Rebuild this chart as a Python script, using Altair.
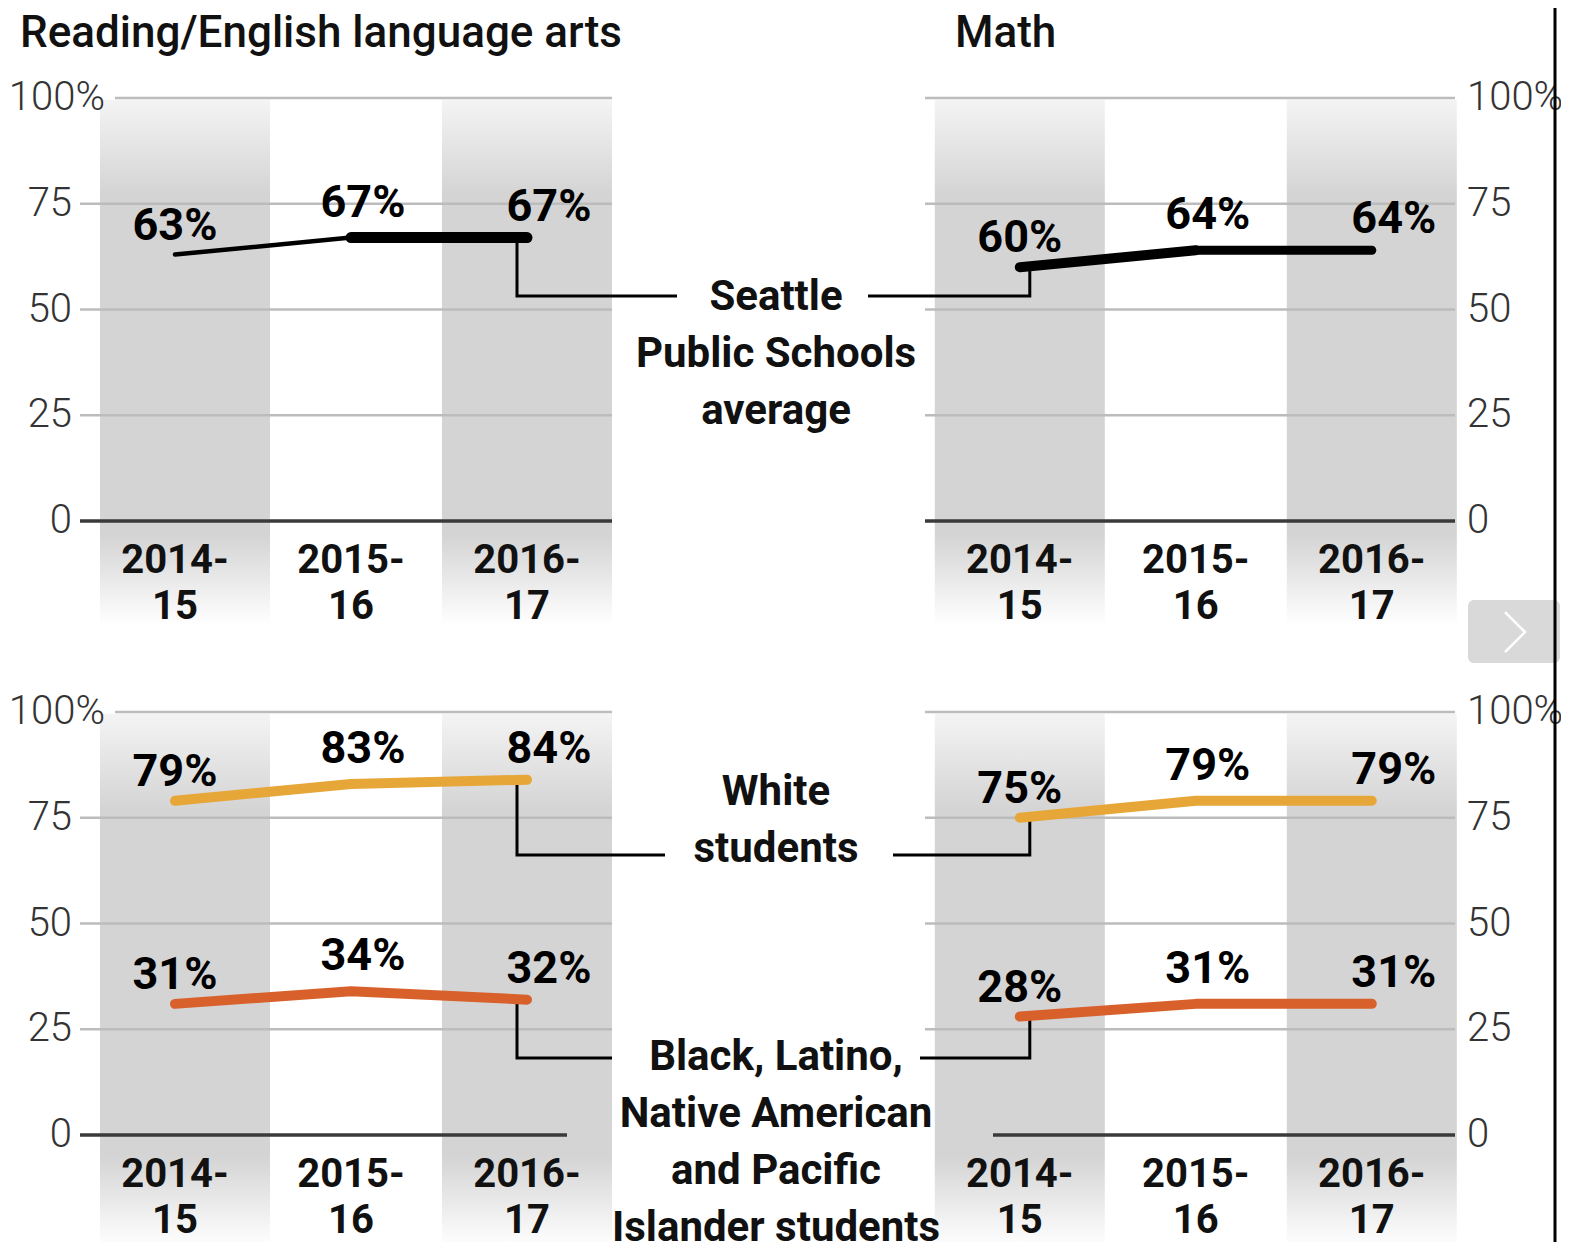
import altair as alt
import pandas as pd

# ---------------- data ----------------
subjects = ["Reading/English language arts", "Math"]
year_top = ["2014-", "2015-", "2016-"]
year_bottom = ["15", "16", "17"]
ticks = [0, 25, 50, 75, 100]
tick_labels = ["0", "25", "50", "75", "100%"]

avg_reading = [63, 67, 67]
avg_math = [60, 64, 64]
white_reading = [79, 83, 84]
white_math = [75, 79, 79]
minority_reading = [31, 34, 32]
minority_math = [28, 31, 31]

seattle_lines = ["Seattle", "Public Schools", "average"]
white_lines = ["White", "students"]
minority_lines = ["Black, Latino,", "Native American", "and Pacific", "Islander students"]

# ---------------- layout (styling, not data) ----------------
W, H = 1553, 1234
PXX, PXY = 176.0, 4.23           # px per column unit / per percentage point
COLS = {"L": [0.0, 1.0, 2.0], "R": [4.8, 5.8, 6.8]}
BAND_SHIFT = {"L": [10, 0, 0], "R": [0, 0, 0]}   # px nudge of band centres
OFF = {"top": 145.15, "bottom": 0.0}
FONT = "Roboto"
GOLD, RUST = "#E7A638", "#D8612B"


def ux(px):
    return px / PXX


def uy(px):
    return px / PXY


def pxx(page_x):   # page x -> column units
    return (page_x - 175) / PXX


XS = alt.Scale(domain=[0, 6.8], range=[167, 167 + PXX * 6.8], zero=False, nice=False)
YS = alt.Scale(domain=[0, 100], range=[1127, 1127 - PXY * 100], zero=False, nice=False)


def X(f="x"):
    return alt.X(f"{f}:Q", scale=XS, axis=None)


def Y(f="y"):
    return alt.Y(f"{f}:Q", scale=YS, axis=None)


# ---------------- background bands ----------------
band_rows = []
for row in ["top", "bottom"]:
    bottom_v = -24.6 if row == "top" else -26.5
    for side in ["L", "R"]:
        for k in [0, 2]:
            c = COLS[side][k] + ux(BAND_SHIFT[side][k])
            band_rows.append(dict(x=c - 0.483, x2=c + 0.483, y=99.6 + OFF[row], y2=bottom_v + OFF[row]))
bands = alt.Chart(pd.DataFrame(band_rows)).mark_rect(
    color=alt.Gradient(
        gradient="linear", x1=0, y1=0, x2=0, y2=1,
        stops=[alt.GradientStop(color="#f4f4f4", offset=0),
               alt.GradientStop(color="#d4d4d4", offset=0.18),
               alt.GradientStop(color="#d4d4d4", offset=0.83),
               alt.GradientStop(color="#ffffff", offset=1)]),
).encode(x=X(), x2="x2", y=Y(), y2="y2")

# ---------------- grid lines ----------------
grid_rows, zero_rows = [], []
for row in ["top", "bottom"]:
    for t in ticks:
        yv = t + OFF[row]
        if t == 0:
            lx2 = pxx(612) if row == "top" else pxx(567)
            rx1 = pxx(925) if row == "top" else pxx(993)
            zero_rows.append(dict(x=pxx(80), x2=lx2, y=yv))
            zero_rows.append(dict(x=rx1, x2=pxx(1455), y=yv))
        else:
            lx1 = pxx(115) if t == 100 else pxx(80)
            grid_rows.append(dict(x=lx1, x2=pxx(612), y=yv))
            grid_rows.append(dict(x=pxx(925), x2=pxx(1455), y=yv))
grid = alt.Chart(pd.DataFrame(grid_rows)).mark_rule(color="#bcbcbc", strokeWidth=2.5).encode(
    x=X(), x2="x2", y=Y())
zero = alt.Chart(pd.DataFrame(zero_rows)).mark_rule(color="#3a3a3a", strokeWidth=3.5).encode(
    x=X(), x2="x2", y=Y())

# ---------------- axis labels ----------------
left_lab, right_lab = [], []
for row in ["top", "bottom"]:
    for t, lab in zip(ticks, tick_labels):
        left_lab.append(dict(x=pxx(105) if t == 100 else pxx(72), y=t + OFF[row], text=lab))
        right_lab.append(dict(x=pxx(1467), y=t + OFF[row], text=lab))
axis_left = alt.Chart(pd.DataFrame(left_lab)).mark_text(
    align="right", baseline="middle", font=FONT, fontSize=40, fontWeight=300, color="#333"
).encode(x=X(), y=Y(), text="text:N")
axis_right = alt.Chart(pd.DataFrame(right_lab)).mark_text(
    align="left", baseline="middle", font=FONT, fontSize=40, fontWeight=300, color="#333"
).encode(x=X(), y=Y(), text="text:N")

# ---------------- year labels ----------------
yr = []
for row in ["top", "bottom"]:
    for side in ["L", "R"]:
        for k in range(3):
            c = COLS[side][k]
            yr.append(dict(x=c, y=-uy(52) + OFF[row], text=year_top[k]))
            yr.append(dict(x=c, y=-uy(98) + OFF[row], text=year_bottom[k]))
years = alt.Chart(pd.DataFrame(yr)).mark_text(
    align="center", baseline="alphabetic", font=FONT, fontSize=40, fontWeight="bold", color="#111"
).encode(x=X(), y=Y(), text="text:N")

# ---------------- titles ----------------
titles = alt.Chart(pd.DataFrame([
    dict(x=pxx(20), y=uy(474) + OFF["top"], text=subjects[0]),
    dict(x=pxx(955), y=uy(474) + OFF["top"], text=subjects[1]),
])).mark_text(align="left", baseline="alphabetic", font=FONT, fontSize=44, fontWeight=500,
              color="#111").encode(x=X(), y=Y(), text="text:N")

# ---------------- connectors ----------------
conn = []
specs = [
    ("avg", "top", avg_reading[2], avg_math[0], 53.2, pxx(677), pxx(868)),
    ("white", "bottom", white_reading[2], white_math[0], 66.2, pxx(665), pxx(893)),
    ("min", "bottom", minority_reading[2], minority_math[0], 18.2, pxx(612), pxx(920)),
]
for name, row, vl, vr, elbow, lend, rstart in specs:
    o = OFF[row]
    xl = COLS["L"][2] - ux(10)
    xr = COLS["R"][0] + ux(10)
    for i, (x, y) in enumerate([(xl, vl + o), (xl, elbow + o), (lend, elbow + o)]):
        conn.append(dict(id=name + "L", ord=i, x=x, y=y))
    for i, (x, y) in enumerate([(rstart, elbow + o), (xr, elbow + o), (xr, vr + o)]):
        conn.append(dict(id=name + "R", ord=i, x=x, y=y))
connectors = alt.Chart(pd.DataFrame(conn)).mark_line(
    color="#000", strokeWidth=3, strokeJoin="miter", strokeCap="butt"
).encode(x=X(), y=Y(), detail="id:N", order="ord:Q")

# ---------------- series lines ----------------
line_rows = []
for side, w_vals, m_vals in [("L", white_reading, minority_reading), ("R", white_math, minority_math)]:
    for k in range(3):
        line_rows.append(dict(panel=side, series="white", x=COLS[side][k], y=w_vals[k]))
        line_rows.append(dict(panel=side, series="minority", x=COLS[side][k], y=m_vals[k]))
ldf = pd.DataFrame(line_rows)
lines = alt.Chart(ldf).mark_line(strokeWidth=10, strokeCap="round", strokeJoin="round").encode(
    x=X(), y=Y(), detail="panel:N",
    color=alt.Color("series:N", scale=alt.Scale(domain=["white", "minority"], range=[GOLD, RUST]),
                    legend=None))

seg_w = {"L": [4.5, 11], "R": [10, 9]}
seg_rows = []
for side, vals in [("L", avg_reading), ("R", avg_math)]:
    for k in range(2):
        seg_rows.append(dict(x=COLS[side][k], x2=COLS[side][k + 1],
                             y=vals[k] + OFF["top"], y2=vals[k + 1] + OFF["top"], w=seg_w[side][k]))
avg_line = alt.Chart(pd.DataFrame(seg_rows)).mark_rule(color="#000", strokeCap="round").encode(
    x=X(), x2="x2", y=Y(), y2="y2", strokeWidth=alt.StrokeWidth("w:Q", scale=None))

# ---------------- value labels ----------------
LDX = [0, 12, 22]
LRISE = [15, 21, 17]
vl_rows = []
for row, side, vals in [("top", "L", avg_reading), ("top", "R", avg_math),
                        ("bottom", "L", white_reading), ("bottom", "R", white_math),
                        ("bottom", "L", minority_reading), ("bottom", "R", minority_math)]:
    for k in range(3):
        vl_rows.append(dict(x=COLS[side][k] + ux(LDX[k]), y=vals[k] + OFF[row] + uy(LRISE[k]),
                            text=f"{vals[k]}%"))
value_labels = alt.Chart(pd.DataFrame(vl_rows)).mark_text(
    align="center", baseline="alphabetic", font=FONT, fontSize=45, fontWeight="bold", color="#000"
).encode(x=X(), y=Y(), text="text:N")

# ---------------- series annotation text ----------------
an_rows = []
for lines_, row, first_v in [(seattle_lines, "top", 52.96), (white_lines, "bottom", 81.1),
                             (minority_lines, "bottom", 18.4)]:
    for i, t in enumerate(lines_):
        an_rows.append(dict(x=pxx(776), y=first_v - uy(57) * i + OFF[row], text=t))
annot = alt.Chart(pd.DataFrame(an_rows)).mark_text(
    align="center", baseline="middle", font=FONT, fontSize=42, fontWeight="bold", color="#111"
).encode(x=X(), y=Y(), text="text:N")

# ---------------- page furniture (right border and arrow button) ----------------
button = alt.Chart(pd.DataFrame([dict(x=pxx(1468), x2=pxx(1560),
                                      y=uy(-79) + OFF["top"], y2=uy(-142) + OFF["top"])])).mark_rect(
    color="#d9d9d9", cornerRadius=6).encode(x=X(), x2="x2", y=Y(), y2="y2")
chev = alt.Chart(pd.DataFrame([
    dict(o=0, x=pxx(1505), y=uy(-91) + OFF["top"]),
    dict(o=1, x=pxx(1525), y=uy(-111) + OFF["top"]),
    dict(o=2, x=pxx(1505), y=uy(-131) + OFF["top"]),
])).mark_line(color="#ffffff", strokeWidth=2.5).encode(x=X(), y=Y(), order="o:Q")
border = alt.Chart(pd.DataFrame([dict(x=pxx(1555))])).mark_rule(color="#000", strokeWidth=3).encode(
    x=X(), y=alt.value(-10), y2=alt.value(H + 10))

chart = alt.layer(
    bands, grid, zero, axis_left, axis_right, years, titles, connectors,
    lines, avg_line, value_labels, annot, button, chev, border
).properties(
    width=W, height=H, padding=0, autosize=alt.AutoSizeParams(type="none")
).configure_view(stroke=None)

chart.save("out.html", embed_options={"renderer": "svg", "actions": False})
